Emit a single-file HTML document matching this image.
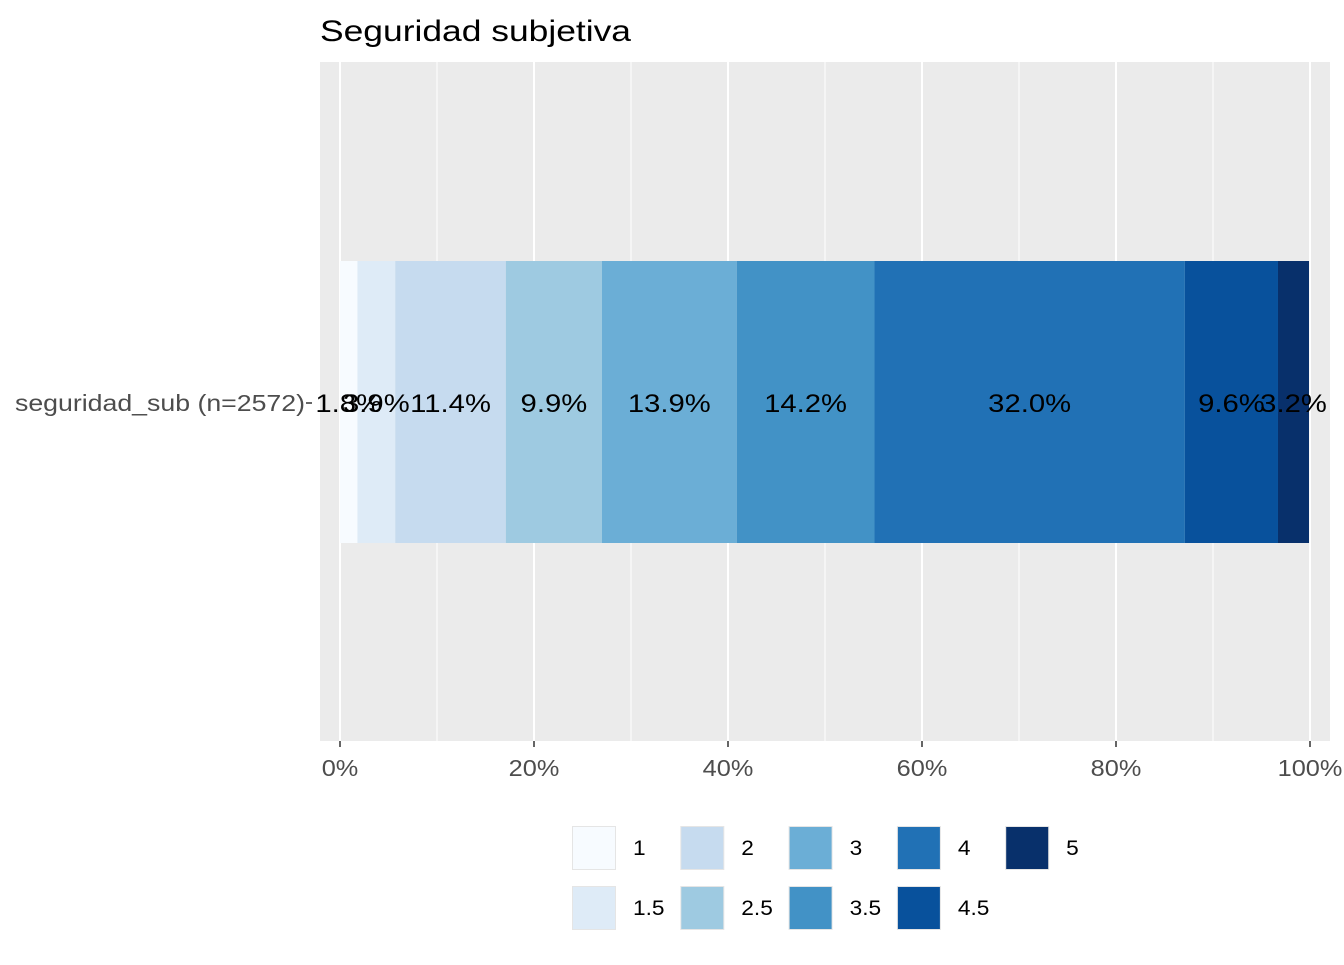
<!DOCTYPE html>
<html><head><meta charset="utf-8"><style>
body{margin:0;background:#fff;font-family:"Liberation Sans",sans-serif}
</style></head><body>
<svg width="1344" height="960" xmlns="http://www.w3.org/2000/svg" font-family="Liberation Sans, sans-serif">
<text id="title" x="320" y="41" font-size="30" fill="#000" textLength="311" lengthAdjust="spacingAndGlyphs">Seguridad subjetiva</text>
<rect x="320" y="62" width="1010" height="679" fill="#EBEBEB"/>
<g id="grid"></g>
<g id="bars"></g>
<g id="labels"></g>
<g id="xticks"></g>
<line x1="306" x2="312" y1="403" y2="403" stroke="#333" stroke-width="1.5"/>
<text x="305" y="411" font-size="23" fill="#4D4D4D" text-anchor="end" textLength="290" lengthAdjust="spacingAndGlyphs">seguridad_sub (n=2572)</text>
<g id="legend"></g>
</svg>
<script>
const categories=["1","1.5","2","2.5","3","3.5","4","4.5","5"];
const values=[1.8,3.9,11.4,9.9,13.9,14.2,32.0,9.6,3.2];
const colors=["#F7FBFF","#DEEBF7","#C6DBEF","#9ECAE1","#6BAED6","#4292C6","#2171B5","#08519C","#08306B"];
const ticks=[0,20,40,60,80,100];
const NS="http://www.w3.org/2000/svg";
const x=v=>340+v*9.7;
function mk(t,a,p){const e=document.createElementNS(NS,t);for(const k in a)e.setAttribute(k,a[k]);p.appendChild(e);return e;}
function stretch(t,f){const w=t.getComputedTextLength();t.setAttribute('textLength',w*f);t.setAttribute('lengthAdjust','spacingAndGlyphs');}
const grid=document.getElementById('grid');
for(let v=10;v<=90;v+=20){const l=mk('line',{x1:x(v),x2:x(v),y1:62,y2:741,stroke:'#fff','stroke-width':1},grid);

}
ticks.forEach(v=>{const l=mk('line',{x1:x(v),x2:x(v),y1:62,y2:741,stroke:'#fff','stroke-width':2},grid);


mk('line',{x1:x(v),x2:x(v),y1:741,y2:747,stroke:'#333','stroke-width':1.5},document.getElementById('xticks'));
const t=mk('text',{x:x(v),y:776,'font-size':23,fill:'#4D4D4D','text-anchor':'middle'},document.getElementById('xticks'));
t.textContent=v+'%';


stretch(t,1.1);});
let cum=0;const bars=document.getElementById('bars'),labs=document.getElementById('labels');
values.forEach((v,i)=>{const r=mk('rect',{x:x(cum),y:261,width:v*9.7,height:282,fill:colors[i]},bars);


const t=mk('text',{x:x(cum+v/2),y:412,'font-size':25,fill:'#000','text-anchor':'middle'},labs);
t.textContent=v.toFixed(1)+'%';


stretch(t,1.17);
cum+=v;});
const lg=document.getElementById('legend');
categories.forEach((c,i)=>{const col=i%2===0?i/2:(i-1)/2;const row=i%2;
const kx=572+col*108.3,ky=826+row*60;
const r=mk('rect',{x:kx+0.5,y:ky+0.5,width:43,height:43,fill:colors[i],stroke:'#E5E5E5','stroke-width':1},lg);


const t=mk('text',{x:kx+61,y:ky+29,'font-size':21,fill:'#000'},lg);
t.textContent=c;


stretch(t,1.08);});
</script>
</body></html>
